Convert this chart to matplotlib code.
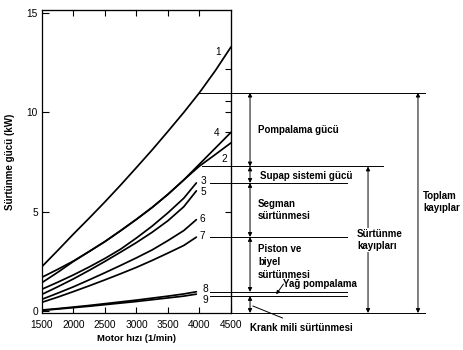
import matplotlib
matplotlib.use("Agg")
import matplotlib.pyplot as plt

plt.rcParams['font.family'] = ['Liberation Sans', 'DejaVu Sans']

# ---- data (rpm, kW) ----
rpm_full = [1500, 1750, 2000, 2250, 2500, 2750, 3000, 3250, 3500, 3750, 4000, 4250, 4500]
rpm_short = [1500, 1750, 2000, 2250, 2500, 2750, 3000, 3250, 3500, 3750, 3950]

curve1 = [2.24, 3.05, 3.88, 4.68, 5.5, 6.35, 7.23, 8.12, 9.05, 10.0, 11.0, 12.1, 13.3]
curve4 = [1.70, 2.10, 2.52, 3.00, 3.50, 4.05, 4.62, 5.22, 5.88, 6.60, 7.40, 8.20, 9.00]
curve2 = [1.43, 1.95, 2.50, 3.00, 3.50, 4.05, 4.62, 5.22, 5.88, 6.60, 7.30, 7.88, 8.47]
curve3 = [1.10, 1.45, 1.82, 2.22, 2.65, 3.12, 3.68, 4.28, 4.95, 5.68, 6.45]
curve5 = [0.84, 1.22, 1.62, 2.05, 2.50, 2.97, 3.45, 3.97, 4.55, 5.25, 6.05]
curve6 = [0.59, 0.90, 1.22, 1.57, 1.93, 2.30, 2.68, 3.08, 3.55, 4.05, 4.60]
curve7 = [0.44, 0.70, 0.98, 1.27, 1.57, 1.88, 2.20, 2.55, 2.92, 3.30, 3.72]
curve8 = [0.05, 0.12, 0.20, 0.28, 0.37, 0.46, 0.55, 0.65, 0.75, 0.86, 0.97]
curve9 = [0.03, 0.10, 0.17, 0.24, 0.32, 0.40, 0.48, 0.57, 0.66, 0.75, 0.85]

x_ticks = [1500, 2000, 2500, 3000, 3500, 4000, 4500]
y_ticks = [0, 5, 10, 15]

# reference levels (kW) of the breakdown on the right
lvl_total = 11.0
lvl_pump = 7.28
lvl_valve = 6.45
lvl_ring = 3.73
lvl_oil_top = 0.96
lvl_oil_bot = 0.76
lvl_zero = -0.1

fig = plt.figure(figsize=(4.64, 3.5), dpi=100)
ax = fig.add_axes([42/464, 1-313/350, 189/464, 303/350])

lw = 1.25
for xs, ys in [(rpm_full, curve1), (rpm_full, curve4), (rpm_full, curve2),
               (rpm_short, curve3), (rpm_short, curve5), (rpm_short, curve6),
               (rpm_short, curve7), (rpm_short, curve8), (rpm_short, curve9)]:
    ax.plot(xs, ys, color='black', lw=lw, solid_capstyle='round')

ax.set_xlim(1500, 4500)
ax.set_ylim(lvl_zero, 15.16)
ax.set_xticks(x_ticks)
ax.set_xticklabels([str(v) for v in x_ticks], fontsize=7.3)
ax.set_yticks(y_ticks)
ax.set_yticklabels([str(v) for v in y_ticks], fontsize=7.3)
ax.tick_params(direction='in', length=4, width=0.8)
ax.tick_params(axis='x', pad=5)
ax.tick_params(axis='y', length=5, pad=3)
for s in ax.spines.values():
    s.set_linewidth(0.9)

# top ticks
axt = ax.secondary_xaxis('top')
axt.set_xticks([2000, 2500, 3000, 3500, 4000])
axt.set_xticklabels([])
axt.tick_params(direction='in', length=4, width=0.8)
# right ticks
axr = ax.secondary_yaxis('right')
axr.set_yticks([5, 9.0, 10, 10.6, 12.2])
axr.set_yticklabels([])
axr.tick_params(direction='in', length=4, width=0.8)

ax.set_xlabel('Motor hızı (1/min)', fontsize=6.8, fontweight='bold', labelpad=3)
ax.set_ylabel('Sürtünme gücü (kW)', fontsize=7, fontweight='bold', labelpad=8)

# curve numbers
lab_kw = dict(fontsize=7.3, ha='center', va='center', clip_on=False)
ax.text(4294, 13.05, '1', **lab_kw)
ax.text(4278, 8.97, '4', **lab_kw)
ax.text(4389, 7.66, '2', **lab_kw)
ax.text(4056, 6.55, '3', **lab_kw)
ax.text(4056, 6.00, '5', **lab_kw)
ax.text(4040, 4.63, '6', **lab_kw)
ax.text(4040, 3.78, '7', **lab_kw)
ax.text(4087, 1.11, '8', **lab_kw)
ax.text(4087, 0.55, '9', **lab_kw)

# horizontal reference lines
hl = dict(color='black', lw=0.7, clip_on=False)
ax.plot([4000, 7580], [lvl_total, lvl_total], **hl)
ax.plot([4040, 6913], [lvl_pump, lvl_pump], **hl)
for lv in [lvl_valve, lvl_ring, lvl_oil_top, lvl_oil_bot]:
    ax.plot([4167, 6341], [lv, lv], **hl)
ax.plot([4500, 7580], [lvl_zero, lvl_zero], **hl)

def darrow(x, y1, y2):
    ax.annotate('', xy=(x, y1), xytext=(x, y2),
                arrowprops=dict(arrowstyle='<|-|>', lw=0.7, color='black',
                                mutation_scale=6, shrinkA=0, shrinkB=0),
                annotation_clip=False)

xa = 4802
darrow(xa, lvl_total, lvl_pump)
darrow(xa, lvl_pump, lvl_valve)
darrow(xa, lvl_valve, lvl_ring)
darrow(xa, lvl_ring, lvl_oil_top)
darrow(xa, lvl_oil_bot, lvl_zero)
darrow(6675, lvl_pump, lvl_zero)
darrow(7468, lvl_total, lvl_zero)

tk = dict(fontsize=7, fontweight='bold', ha='left', va='center', clip_on=False,
          linespacing=1.35)
ax.text(4929, 9.12, 'Pompalama gücü', **tk)
ax.text(4960, 6.82, 'Supap sistemi gücü', **tk)
ax.text(4929, 5.09, 'Segman\nsürtünmesi', **tk)
ax.text(4929, 2.48, 'Piston ve\nbiyel\nsürtünmesi', **tk)
ax.text(5333, 1.36, 'Yağ pompalama', **tk)
ax.text(6500, 3.58, 'Sürtünme\nkayıpları', bbox=dict(facecolor='white', edgecolor='none', pad=0.5), **tk)
ax.text(7548, 5.49, 'Toplam\nkayıplar', **tk)
ax.text(5611, -0.86, 'Krank mili sürtünmesi', fontsize=7, fontweight='bold',
        ha='center', va='center', clip_on=False)

# leader lines
ax.annotate('', xy=(5217, 0.84), xytext=(5333, 1.36),
            arrowprops=dict(arrowstyle='-|>', lw=0.7, color='black',
                            mutation_scale=5, shrinkA=0, shrinkB=0),
            annotation_clip=False)
ax.plot([4849, 5317], [0.25, -0.35], color='black', lw=0.7, clip_on=False)

fig.savefig('out.png', dpi=100)
